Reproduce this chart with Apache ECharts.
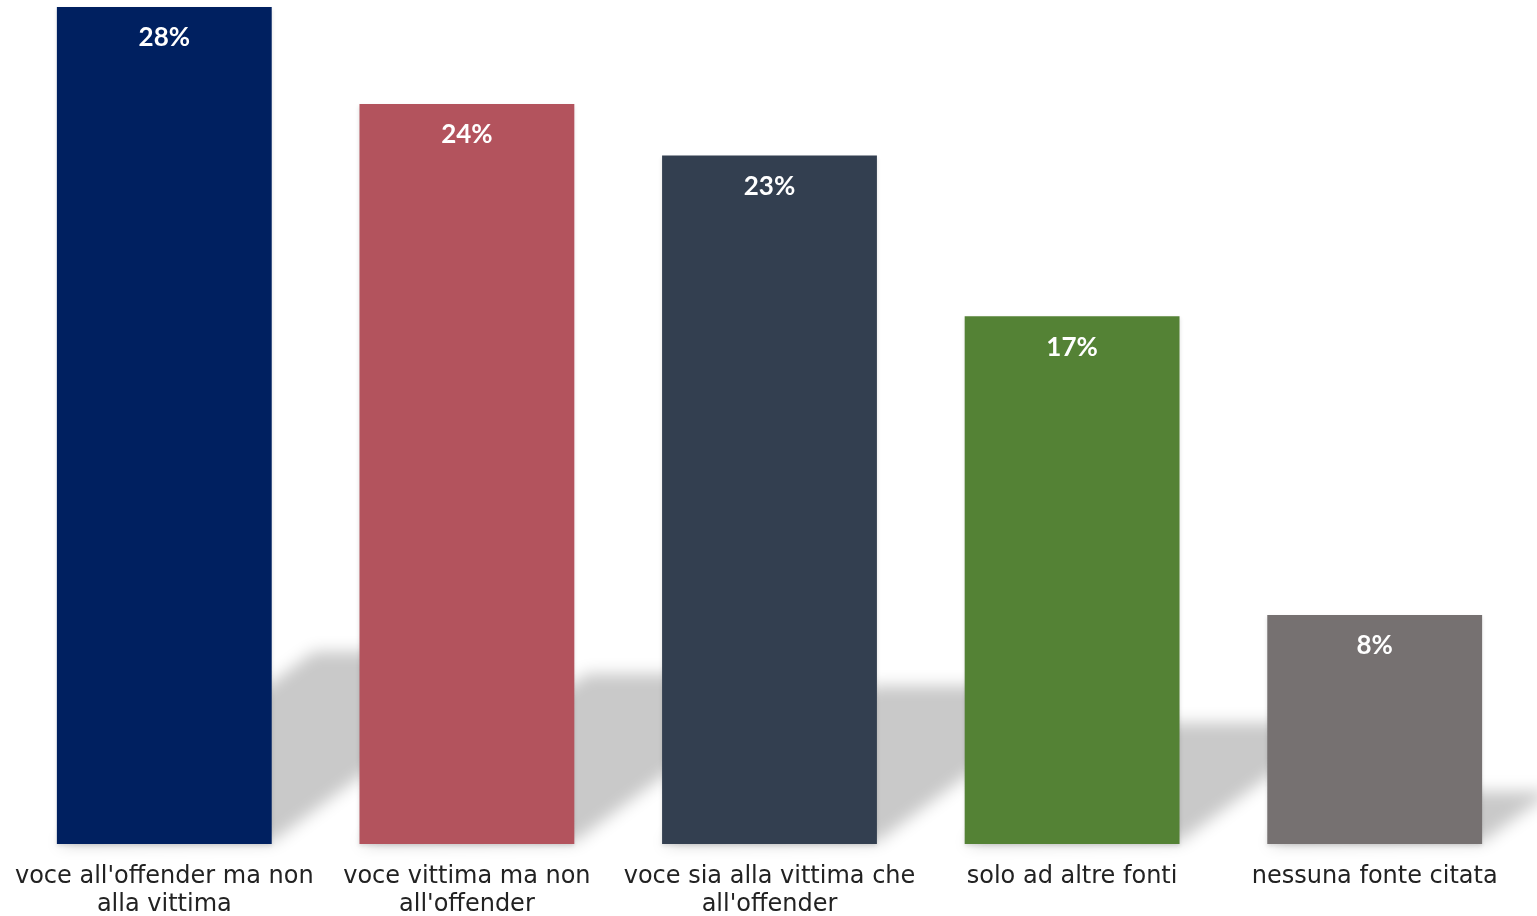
<!DOCTYPE html>
<html>
<head>
<meta charset="utf-8">
<script src="https://cdn.jsdelivr.net/npm/echarts@6/dist/echarts.min.js"></script>
<style>html,body{margin:0;padding:0;background:#fff}#c{width:1537px;height:916px}</style>
</head>
<body>
<div id="c"></div>
<script>
const categories = ["voce all'offender ma non\nalla vittima", "voce vittima ma non\nall'offender", "voce sia alla vittima che\nall'offender", "solo ad altre fonti", "nessuna fonte citata"];
const values = [27.6, 24.4, 22.7, 17.4, 7.55];
const colors = ['#002060', '#B3535D', '#333F50', '#548235', '#767171'];

const chart = echarts.init(document.getElementById('c'));
const BAR_FRAC = 0.71;
const OFF = 3000;
chart.setOption({
  animation: false,
  grid: { left: 13, right: 11, top: 7, bottom: 72, containLabel: false, outerBoundsMode: 'none' },
  xAxis: {
    type: 'category', data: categories,
    axisLine: { show: false }, axisTick: { show: false },
    axisLabel: { color: '#222', fontFamily: 'DejaVu Sans', fontSize: 24, lineHeight: 28, margin: 19, interval: 0 }
  },
  yAxis: { type: 'value', min: 0, max: 27.6, show: false, splitLine: { show: false } },
  series: [
    {
      type: 'custom', z: 1, silent: true, clip: false,
      data: values.map((v, i) => [i, v]),
      renderItem: function (params, api) {
        const i = api.value(0), v = api.value(1);
        const base = api.coord([i, 0]);
        const top = api.coord([i, v]);
        const w = api.size([1, 0])[0] * BAR_FRAC;
        const h = base[1] - top[1];
        const x0 = base[0] - w / 2 - OFF, x1 = base[0] + w / 2 - OFF;
        const dy = 0.23 * h, dx = 0.307 * h;
        return {
          type: 'polygon',
          shape: { points: [[x0, base[1]], [x1, base[1] - 2], [x1 + dx, base[1] - dy], [x0 + dx, base[1] - dy]] },
          style: { fill: '#c9c9c9', shadowBlur: 16, shadowColor: '#c9c9c9', shadowOffsetX: OFF, shadowOffsetY: 0 }
        };
      }
    },
    {
      type: 'bar', z: 3,
      data: values.map((v, i) => ({ value: v, itemStyle: { color: colors[i] } })),
      barWidth: (BAR_FRAC * 100) + '%',
      itemStyle: { shadowBlur: 4, shadowColor: 'rgba(0,0,0,0.12)', shadowOffsetY: 2 },
      label: {
        show: true, position: 'insideTop', distance: 18,
        formatter: p => Math.round(p.value) + '%',
        color: '#fff', fontWeight: 'bold', fontSize: 26, fontFamily: 'Lato'
      }
    }
  ]
});
</script>
</body>
</html>
